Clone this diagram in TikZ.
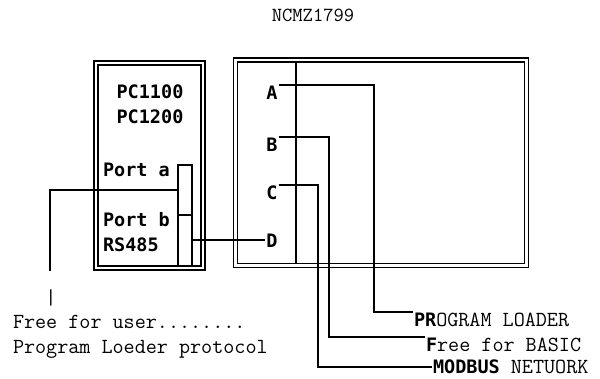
\documentclass[tikz,border=0pt]{standalone}
\usepackage{fontspec}
\usetikzlibrary{positioning}
\newfontfamily\penfont{DejaVu Sans Mono}
\newcommand\tytxt{\ttfamily\fontsize{21.5}{24}\selectfont}
\newcommand\pentxt{\penfont\bfseries\fontsize{18.5}{20}\selectfont}

\begin{document}
\begin{tikzpicture}[x=1pt,y=-1pt,line width=2pt,
  frame/.style={draw,double,double distance=2.2pt,line width=1.8pt,inner sep=0pt},
  portbox/.style={draw,line width=1.8pt,minimum width=14pt,minimum height=50pt,inner sep=0pt},
  lbl/.style={inner sep=0pt,font=\pentxt},
  txt/.style={inner sep=0pt,font=\tytxt}]
  \useasboundingbox (0,0) rectangle (600,379);

  \node[txt,font=\ttfamily\fontsize{20}{22}\selectfont] (title) at (313,15) {NCMZ1799};

  % controller
  \node[frame,minimum width=107pt,minimum height=205pt] (plc) at (149.5,165.5) {};
  \node[lbl] (pca) at (150,92) {PC1100};
  \node[lbl] (pcb) at (150,117) {PC1200};
  \node[lbl,anchor=west] (pta) at (102,170) {Port a};
  \node[lbl,anchor=west] (ptb) at (102,220) {Port b};
  \node[lbl,anchor=west] (rs) at (102,245) {RS485};
  \node[portbox] (porta) at (185,190) {};
  \node[portbox,minimum height=51pt] (portb) at (185,240.5) {};

  % bus panel
  \node[frame,minimum width=291pt,minimum height=205.5pt] (bus) at (381,162.75) {};
  \coordinate (sep) at (296,0);
  \draw[line width=1.8pt,shorten <=2.9pt,shorten >=2.9pt]
    (sep |- bus.north) -- (sep |- bus.south);
  \foreach \l/\y in {A/93,B/145,C/193,D/240.5}
    \node[lbl] (\l) at (272,\y) {\l};

  % user port
  \coordinate (usr) at (50,271);
  \draw (porta.west) -| (usr);
  \node[txt] (bar) at (51,298) {|};
  \node[txt,anchor=base west] (free) at (12,329) {Free for user........};
  \node[txt,anchor=base west] (prot) at (12,354) {Program Loeder protocol};

  % outputs
  \node[txt,anchor=north west] (pl) at (413,312) {{\pentxt PR}OGRAM LOADER};
  \node[txt,anchor=north west] (fb) at (425,337) {{\pentxt F}ree for BASIC};
  \node[txt,anchor=west] (mb) at (432,367) {{\pentxt MODBUS} NETUORK};
  \coordinate (xa) at (374,263);
  \coordinate (xb) at (329,263);
  \coordinate (xc) at (318,263);

  \draw (portb.east) -- (D.west);
  \draw (A.north east) -| (xa) |- (pl.north west);
  \draw (B.north east) -| (xb) |- (fb.north west);
  \draw (C.north east) -| (xc) |- (mb.west);
\end{tikzpicture}
\end{document}
